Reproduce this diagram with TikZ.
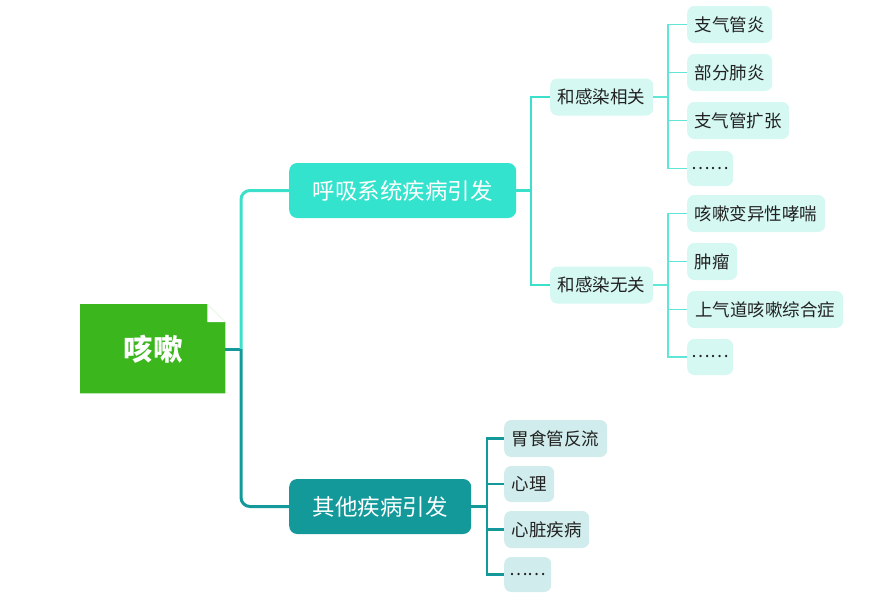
\documentclass[tikz,border=0pt]{standalone}
\usepackage{fontspec}
\setmainfont{Noto Sans CJK SC}
\definecolor{rootgreen}{HTML}{3BB61D}
\definecolor{turq}{HTML}{34E3CD}
\definecolor{tealc}{HTML}{14999B}
\definecolor{leafU}{HTML}{D5F8F2}
\definecolor{leafL}{HTML}{D0ECEC}
\definecolor{lineU}{HTML}{3BE0CB}
\definecolor{lineUL}{HTML}{5FE6D6}
\definecolor{txt}{HTML}{222222}
\begin{document}
\begin{tikzpicture}[x=1pt,y=-1pt,
  mainnode/.style={rounded corners=8pt, minimum height=55pt, inner sep=0pt, anchor=west, text=white, font=\fontsize{22.5}{22.5}\selectfont},
  leafnode/.style={rounded corners=7pt, minimum height=37pt, inner sep=0pt, anchor=west, text=txt, font=\fontsize{17.5}{17.5}\selectfont},
  upleaf/.style={leafnode, fill=leafU},
  lowleaf/.style={leafnode, fill=leafL},
  lineA/.style={line width=3pt, line join=round},
  lineB/.style={line width=2.3pt},
  lineC/.style={line width=1.5pt, lineUL}
]
\useasboundingbox (0,0) rectangle (880,613);

% root
\node[minimum width=145pt, minimum height=89pt, inner sep=0pt, anchor=north west] (root) at (80,304) {};
\fill[rootgreen] (root.north west) -- ([xshift=-18pt]root.north east) -- ([yshift=-18pt]root.north east) -- (root.south east) -- (root.south west) -- cycle;
\fill[white] ([xshift=-18pt]root.north east) -- ([xshift=-18pt,yshift=-18pt]root.north east) -- ([yshift=-18pt]root.north east) -- cycle;
\node[text=white, font=\fontsize{29.5}{29.5}\selectfont\bfseries] (roottxt) at (153,349.5) {咳嗽};

% main branches
\node[mainnode, fill=turq, minimum width=227pt] (r1) at (289,190.5) {呼吸系统疾病引发};
\node[mainnode, fill=tealc, minimum width=182pt] (r2) at (289,506.5) {其他疾病引发};

% second level
\node[upleaf, minimum width=103pt] (a1) at (550,97) {和感染相关};
\node[upleaf, minimum width=103pt] (a2) at (550,285) {和感染无关};

% leaves of a1
\node[upleaf, minimum width=85pt] (b1) at (687,24.5) {支气管炎};
\node[upleaf, minimum width=85pt] (b2) at (687,72.5) {部分肺炎};
\node[upleaf, minimum width=102pt] (b3) at (687,120.5) {支气管扩张};
\node[upleaf, minimum width=46pt, minimum height=35pt] (b4) at (687,168.5) {……};
% leaves of a2
\node[upleaf, minimum width=138pt] (c1) at (687,213.5) {咳嗽变异性哮喘};
\node[upleaf, minimum width=50pt] (c2) at (687,261.5) {肿瘤};
\node[upleaf, minimum width=156pt] (c3) at (687,309.5) {上气道咳嗽综合症};
\node[upleaf, minimum width=46pt, minimum height=36pt] (c4) at (687,357) {……};
% leaves of r2
\node[lowleaf, minimum width=103pt] (d1) at (504,438.5) {胃食管反流};
\node[lowleaf, minimum width=50pt, minimum height=36pt] (d2) at (504,484) {心理};
\node[lowleaf, minimum width=85pt] (d3) at (504,529.5) {心脏疾病};
\node[lowleaf, minimum width=47pt, minimum height=35pt] (d4) at (504,574.5) {……};

% junctions
\coordinate (j0) at (241,349);
\coordinate (j1) at (531,190.5);
\coordinate (j2) at (668,97);
\coordinate (j3) at (668,285);
\coordinate (j4) at (487,506.5);

% connectors level 1
\draw[lineA, tealc] (root.east |- j0) -- (j0);
\draw[lineA, lineU, rounded corners=9pt] (j0) |- (r1.west);
\draw[lineA, tealc, rounded corners=9pt] (j0) |- (r2.west);

% connectors level 2
\draw[lineB, lineU] (r1.east) -- (j1);
\draw[lineB, lineU] (j1) |- (a1.west);
\draw[lineB, lineU] (j1) |- (a2.west);
\draw[lineB, tealc] (r2.east) -- (j4);
\foreach \n in {d1,d2,d3,d4} \draw[lineB, tealc] (j4) |- (\n.west);

% connectors level 3
\draw[lineC] (a1.east) -- (j2);
\foreach \n in {b1,b2,b3,b4} \draw[lineC] (j2) |- (\n.west);
\draw[lineC] (a2.east) -- (j3);
\foreach \n in {c1,c2,c3,c4} \draw[lineC] (j3) |- (\n.west);
\end{tikzpicture}
\end{document}
